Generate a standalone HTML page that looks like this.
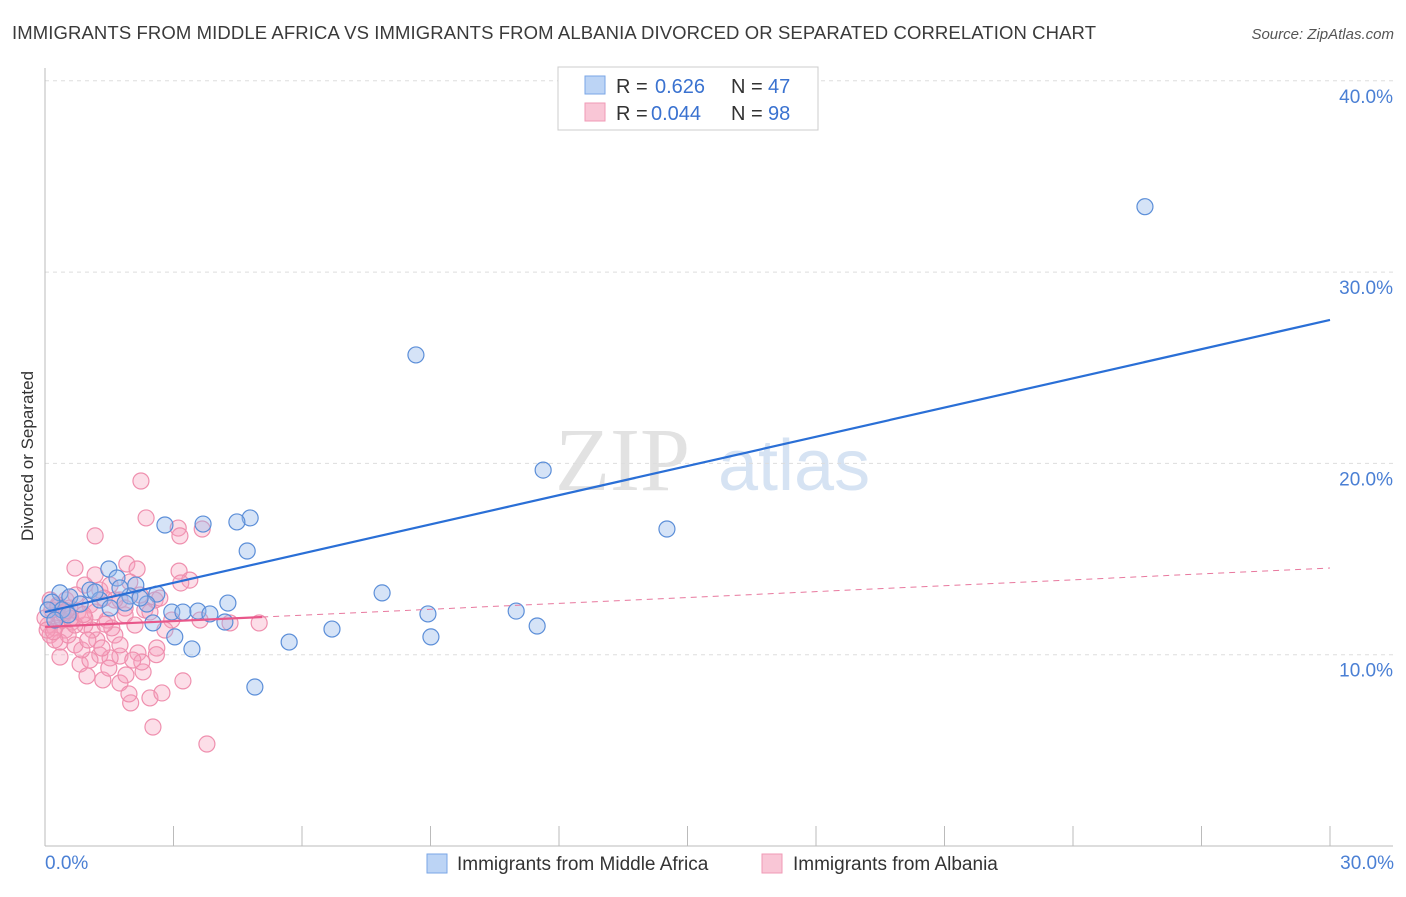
<!DOCTYPE html>
<html><head><meta charset="utf-8"><style>
body{margin:0;background:#fff;font-family:"Liberation Sans",sans-serif;}
</style></head><body>
<svg width="1406" height="892" xmlns="http://www.w3.org/2000/svg" font-family="Liberation Sans, sans-serif">
<text x="12" y="39" font-size="18.5" fill="#3a3a3a" textLength="1084">IMMIGRANTS FROM MIDDLE AFRICA VS IMMIGRANTS FROM ALBANIA DIVORCED OR SEPARATED CORRELATION CHART</text>
<text x="1394" y="39" font-size="15" fill="#555" text-anchor="end" font-style="italic">Source: ZipAtlas.com</text>
<text x="555" y="490" font-size="90" fill="#e2e2e2" font-family="Liberation Serif, serif">ZIP</text>
<text x="718" y="490" font-size="72" fill="#d6e3f3">atlas</text>
<g id="grid"></g>
<line x1="45" y1="68" x2="45" y2="846" stroke="#bbb"/>
<line x1="45" y1="846" x2="1393" y2="846" stroke="#bbb"/>
<g id="ticks"></g>
<text transform="translate(33,456) rotate(-90)" font-size="17" fill="#333" text-anchor="middle">Divorced or Separated</text>
<text x="45" y="869" font-size="19" fill="#4a7fd4">0.0%</text>
<text x="1394" y="869" font-size="19" fill="#4a7fd4" text-anchor="end">30.0%</text>
<g id="pts"></g>
<g id="lines"></g>
<g>
<rect x="558" y="67" width="260" height="63" fill="#fff" stroke="#ccc"/>
<rect x="585" y="76" width="20" height="18" fill="#bcd4f5" stroke="#7aa6e6"/>
<rect x="585" y="103" width="20" height="18" fill="#f9c6d6" stroke="#f09ab6"/>
<text x="616" y="93" font-size="20" fill="#333">R =</text>
<text x="655" y="93" font-size="20" fill="#3a72d0">0.626</text>
<text x="731" y="93" font-size="20" fill="#333">N =</text>
<text x="768" y="93" font-size="20" fill="#3a72d0">47</text>
<text x="616" y="120" font-size="20" fill="#333">R =</text>
<text x="651" y="120" font-size="20" fill="#3a72d0">0.044</text>
<text x="731" y="120" font-size="20" fill="#333">N =</text>
<text x="768" y="120" font-size="20" fill="#3a72d0">98</text>
</g>
<g>
<rect x="427" y="854" width="20" height="19" fill="#bcd4f5" stroke="#7aa6e6"/>
<text x="457" y="870" font-size="19" fill="#333">Immigrants from Middle Africa</text>
<rect x="762" y="854" width="20" height="19" fill="#f9c6d6" stroke="#f09ab6"/>
<text x="793" y="870" font-size="19" fill="#333">Immigrants from Albania</text>
</g>
</svg>
<script>
const yTicks=[10,20,30,40];
const yTickLabels=["10.0%","20.0%","30.0%","40.0%"];
const xTicks=[0,3,6,9,12,15,18,21,24,27,30];
const blueX=[25.68,8.66,11.63,14.52,4.79,4.48,3.69,2.80,4.72,1.49,1.68,2.12,0.35,1.05,1.98,2.61,2.38,1.87,1.28,0.58,0.16,7.87,4.27,2.96,3.22,3.57,3.85,8.94,11.0,2.52,4.20,6.70,11.49,3.03,9.01,5.70,3.43,4.90,0.40,0.82,1.52,0.07,0.23,1.17,1.75,0.54,2.22];
const blueY=[33.42,25.67,19.65,16.57,17.15,16.94,16.83,16.78,15.42,14.48,14.01,13.64,13.23,13.38,13.07,13.17,12.65,12.70,12.86,13.02,12.75,13.23,12.70,12.23,12.23,12.28,12.13,12.13,12.28,11.66,11.71,11.34,11.50,10.93,10.93,10.66,10.30,8.31,12.34,12.65,12.44,12.34,11.81,13.28,13.49,12.08,12.96];
const pinkX=[2.24,2.36,1.17,3.11,3.15,3.67,0.70,1.91,2.15,3.13,3.38,3.17,2.57,4.32,5.0,0.35,0.82,0.98,1.35,1.75,1.89,2.29,2.61,3.22,2.0,2.45,2.73,1.96,2.52,3.78,1.28,1.75,2.17,1.52,2.26,1.05,0.70,1.21,1.63,0.12,0.47,0.93,1.45,1.87,2.33,0.30,0.58,1.05,1.75,1.28,0.93,1.52,1.98,0.12,0.07,0.23,0.40,0.63,0.77,1.17,1.56,1.75,1.33,0.86,0.35,0.0,0.16,0.49,2.22,2.68,2.96,3.62,2.10,1.10,0.54,0.30,0.72,1.38,1.87,2.45,0.93,0.70,0.23,1.49,2.05,0.05,0.42,1.0,1.63,1.17,2.80,0.3,0.6,0.9,1.4,0.2,0.5,2.6];
const pinkY=[19.08,17.15,16.21,16.62,16.21,16.57,14.53,14.74,14.48,14.37,13.90,13.75,12.86,11.66,11.66,9.88,9.51,8.89,8.68,8.52,8.94,9.10,10.35,8.63,7.48,7.74,8.00,7.95,6.22,5.33,9.98,9.93,10.09,9.83,9.62,9.72,10.51,10.77,11.03,11.03,11.29,11.55,11.81,12.08,12.34,12.08,12.44,12.60,12.86,13.38,13.64,13.64,13.80,12.86,11.55,11.40,11.81,11.71,12.23,12.23,11.40,10.51,10.35,10.25,10.66,11.92,12.34,12.86,13.12,12.96,11.81,11.81,11.55,11.29,11.03,12.60,13.12,12.96,12.44,12.23,11.92,11.55,10.77,9.30,9.72,11.29,12.18,10.77,12.86,14.17,11.29,12.5,11.9,12.1,11.6,11.2,12.3,10.0];
const blueLine=[[0,12.23],[30,27.5]];
const pinkSolid=[[0,11.45],[5.07,11.97]];
const pinkDash=[[5.07,11.97],[30,14.53]];
const NS="http://www.w3.org/2000/svg";
const sx=v=>45+v/30*1285;
const sy=v=>846-v*19.13;
function mk(tag,attrs,parent){const e=document.createElementNS(NS,tag);for(const k in attrs)e.setAttribute(k,attrs[k]);document.getElementById(parent).appendChild(e);return e;}
yTicks.forEach((t,i)=>{
 const l=mk('line',{x1:45,x2:1393,y1:sy(t),y2:sy(t),stroke:'#ddd','stroke-dasharray':'4,4'},'grid');
 
 
 const tx=mk('text',{x:1393,y:sy(t)+22,'font-size':19,fill:'#4a7fd4','text-anchor':'end'},'grid');
 tx.textContent=yTickLabels[i];
 
 
});
xTicks.forEach(t=>{
 const l=mk('line',{x1:sx(t),x2:sx(t),y1:826,y2:846,stroke:'#bbb'},'ticks');
 
 
});
pinkX.forEach((x,i)=>{
 const c=mk('circle',{cx:sx(x),cy:sy(pinkY[i]),r:8,fill:'rgba(247,160,188,0.35)',stroke:'#ef8fae','stroke-width':1.2},'pts');
 
 
});
blueX.forEach((x,i)=>{
 const c=mk('circle',{cx:sx(x),cy:sy(blueY[i]),r:8,fill:'rgba(150,185,235,0.4)',stroke:'#5b8ed8','stroke-width':1.2},'pts');
 
 
});
const b=mk('line',{x1:sx(blueLine[0][0]),y1:sy(blueLine[0][1]),x2:sx(blueLine[1][0]),y2:sy(blueLine[1][1]),stroke:'#2a6fd6','stroke-width':2.2},'lines');


const p=mk('line',{x1:sx(pinkSolid[0][0]),y1:sy(pinkSolid[0][1]),x2:sx(pinkSolid[1][0]),y2:sy(pinkSolid[1][1]),stroke:'#e8578a','stroke-width':2.2},'lines');


const pd=mk('line',{x1:sx(pinkDash[0][0]),y1:sy(pinkDash[0][1]),x2:sx(pinkDash[1][0]),y2:sy(pinkDash[1][1]),stroke:'#e8789e','stroke-width':1,'stroke-dasharray':'6,5'},'lines');


</script>
</body></html>
